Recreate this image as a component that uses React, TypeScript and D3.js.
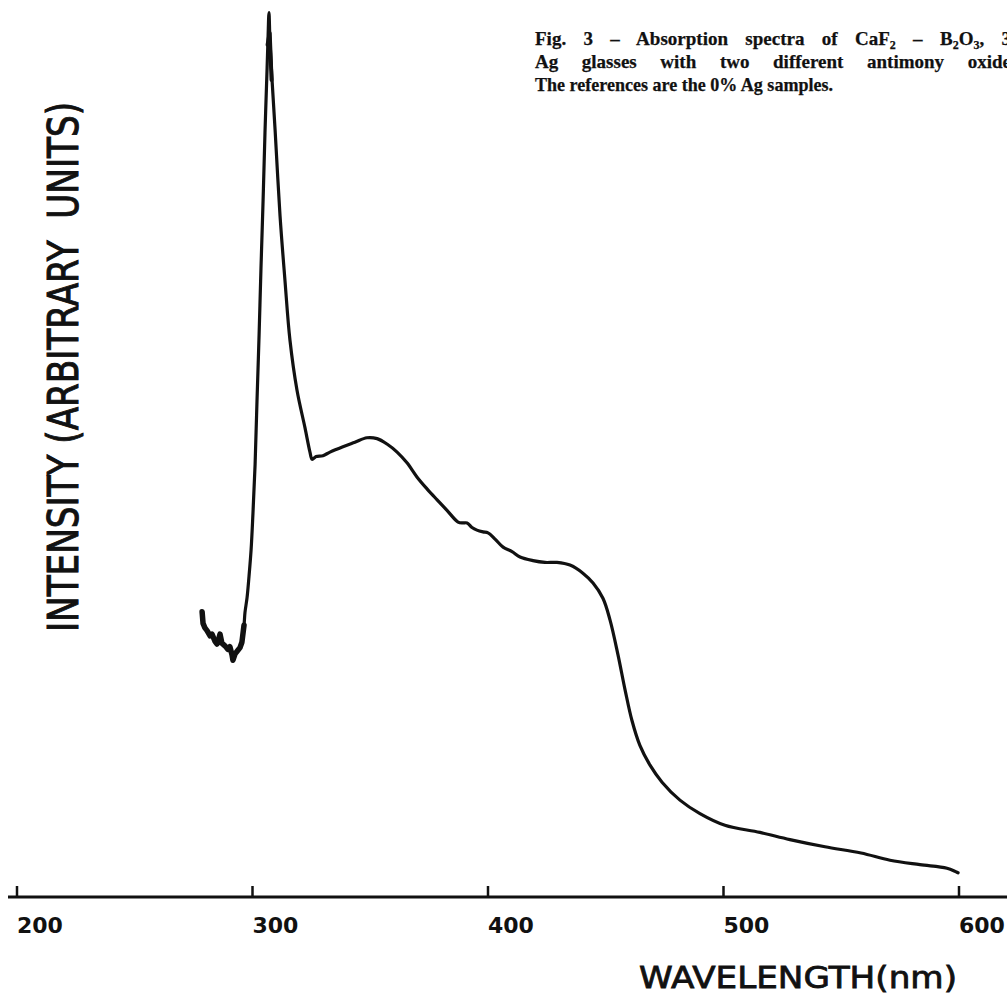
import React, { useLayoutEffect, useRef, useState } from 'react';
import * as d3 from 'd3';

// Wavelength (nm) of each recorded point of the absorption spectrum
const wavelength = [
  278.6, 279.0, 279.8, 280.7, 282.0, 282.8, 284.1, 284.9, 285.8, 286.2, 287.0,
  288.3, 289.6, 290.4, 291.3, 291.7, 292.6, 293.8, 294.7, 295.5, 296.4, 296.8,
  297.7, 298.5, 299.4, 300.2, 301.1, 301.9, 302.8, 303.6, 304.5, 305.3, 306.2,
  306.6, 307.0, 307.4, 308.3, 309.6, 311.7, 313.8, 315.9, 318.9, 322.3, 324.4,
  325.3, 327.0, 329.9, 332.9, 338.4, 343.5, 348.6, 352.9, 357.1, 361.4, 365.6,
  369.9, 374.1, 378.3, 382.6, 387.3, 389.4, 391.1, 393.2, 395.3, 397.9, 400.0,
  403.0, 406.4, 410.2, 413.6, 419.1, 424.2, 429.3, 434.8, 440.3, 444.6, 448.8,
  451.8, 455.2, 458.2, 461.1, 464.5, 468.8, 473.9, 481.5, 490.0, 500.6, 515.5,
  528.2, 543.1, 558.4, 570.7, 583.4, 594.9, 599.6,
];

// Intensity (arbitrary units)
const intensity = [
  31.8, 30.5, 30.0, 29.7, 29.1, 29.3, 28.5, 28.2, 28.9, 29.3, 28.3,
  28.0, 27.6, 27.9, 27.0, 26.4, 27.1, 27.5, 27.8, 28.4, 30.3, 31.7,
  33.4, 35.7, 38.7, 42.8, 48.2, 55.2, 62.7, 70.1, 77.7, 85.2, 92.4,
  95.8, 98.6, 95.5, 91.1, 85.5, 75.9, 68.7, 62.1, 56.5, 52.3, 49.6,
  48.8, 49.1, 49.2, 49.6, 50.2, 50.7, 51.2, 51.1, 50.5, 49.6, 48.4,
  46.8, 45.5, 44.3, 43.1, 41.8, 41.7, 41.7, 41.2, 40.9, 40.7, 40.6,
  39.9, 39.0, 38.5, 37.9, 37.5, 37.3, 37.3, 37.0, 36.1, 35.0, 33.3,
  30.9, 27.0, 23.1, 19.7, 16.9, 14.7, 12.8, 10.8, 9.3, 8.0, 7.2,
  6.4, 5.6, 4.9, 4.1, 3.6, 3.2, 2.7,
];

// Second (overlapping) recorder trace near the top of the peak
const peakTraceWavelength = [306.4, 307.3, 308.1];
const peakTraceIntensity = [95.0, 96.3, 91.1];

const noisyPointCount = 21;
const xTicks = [200, 300, 400, 500, 600];
const xTickLabels = ['200', '300', '400', '500', '600'];
const xAxisTitle = 'WAVELENGTH(nm)';
const yAxisTitle = 'INTENSITY (ARBITRARY  UNITS)';
const captionLine2 = 'Ag glasses with two different antimony oxide';
const captionLine3 = 'The references are the 0% Ag samples.';

const W = 1007;
const H = 994;

export default function App() {
  const x = d3.scaleLinear().domain([200, 600]).range([17, 959]);
  const y = d3.scaleLinear().domain([0, 100]).range([897, 0]);

  const pts: [number, number][] = wavelength.map((w, i) => [w, intensity[i]]);
  const peakPts: [number, number][] = peakTraceWavelength.map((w, i) => [w, peakTraceIntensity[i]]);
  const line = d3
    .line<[number, number]>()
    .x((d) => x(d[0]))
    .y((d) => y(d[1]))
    .curve(d3.curveCatmullRom.alpha(0.5));
  const noisy = pts.slice(0, noisyPointCount);
  const straight = d3
    .line<[number, number]>()
    .x((d) => x(d[0]))
    .y((d) => y(d[1]))
    .curve(d3.curveLinear);

  const l1 = useRef<SVGTextElement>(null);
  const l2 = useRef<SVGTextElement>(null);
  const [ws, setWs] = useState<[number, number]>([0, 0]);
  const justifyWidth = 476;
  useLayoutEffect(() => {
    const calc = (el: SVGTextElement | null, spaces: number) => {
      if (!el) return 0;
      const n = el.getComputedTextLength();
      return Math.max(0, (justifyWidth - n) / spaces);
    };
    setWs([calc(l1.current, 9), calc(l2.current, 6)]);
  }, []);

  const capX = 535;
  const capFont = "'Liberation Serif', 'Times New Roman', serif";
  const sans = "'DejaVu Sans', sans-serif";

  return (
    <svg
      width={W}
      height={H}
      style={{ position: 'absolute', left: 0, top: 0, background: '#fff' }}
    >
      <rect x={0} y={0} width={W} height={H} fill="#fff" />

      {/* Caption */}
      <g fontFamily={capFont} fontWeight="bold" fontSize={19} fill="#111" stroke="#111" strokeWidth={0.25}>
        <text ref={l1} x={capX} y={45} style={{ wordSpacing: ws[0] }}>
          Fig. 3 – Absorption spectra of CaF
          <tspan fontSize={12} dy={4}>2</tspan>
          <tspan dy={-4}> – B</tspan>
          <tspan fontSize={12} dy={4}>2</tspan>
          <tspan dy={-4}>O</tspan>
          <tspan fontSize={12} dy={4}>3</tspan>
          <tspan dy={-4}>, 3</tspan>
        </text>
        <text ref={l2} x={capX} y={68} style={{ wordSpacing: ws[1] }}>
          {captionLine2}
        </text>
        <text x={capX} y={91} textLength={298} lengthAdjust="spacingAndGlyphs">
          {captionLine3}
        </text>
      </g>

      {/* Y axis title */}
      <text
        transform={`translate(78, ${367}) rotate(-90)`}
        textAnchor="middle"
        fontFamily={sans}
        fontSize={42}
        fill="#111"
        stroke="#111"
        strokeWidth={1}
        textLength={530}
        lengthAdjust="spacingAndGlyphs"
        style={{ whiteSpace: 'pre' }}
      >
        {yAxisTitle}
      </text>

      {/* X axis */}
      <line x1={8} x2={W} y1={y(0)} y2={y(0)} stroke="#111" strokeWidth={3} />
      {xTicks.map((t, i) => (
        <g key={t}>
          <line x1={x(t)} x2={x(t)} y1={y(0)} y2={y(0) - 11} stroke="#111" strokeWidth={2.5} />
          <text
            x={x(t)}
            y={y(0) + 36}
            fontFamily={sans}
            fontWeight="bold"
            fontSize={22}
            fill="#111"
          >
            {xTickLabels[i]}
          </text>
        </g>
      ))}
      <text
        x={639}
        y={988}
        fontFamily={sans}
        fontSize={30}
        fill="#111"
        stroke="#111"
        strokeWidth={0.8}
        textLength={318}
        lengthAdjust="spacingAndGlyphs"
      >
        {xAxisTitle}
      </text>

      {/* Spectrum */}
      <path d={line(pts) || ''} fill="none" stroke="#111" strokeWidth={3.2} strokeLinejoin="round" strokeLinecap="round" />
      <path d={straight(noisy) || ''} fill="none" stroke="#111" strokeWidth={5.5} strokeLinejoin="round" strokeLinecap="round" />
      <path d={straight(peakPts) || ''} fill="none" stroke="#111" strokeWidth={4} strokeLinejoin="round" strokeLinecap="round" />
    </svg>
  );
}
